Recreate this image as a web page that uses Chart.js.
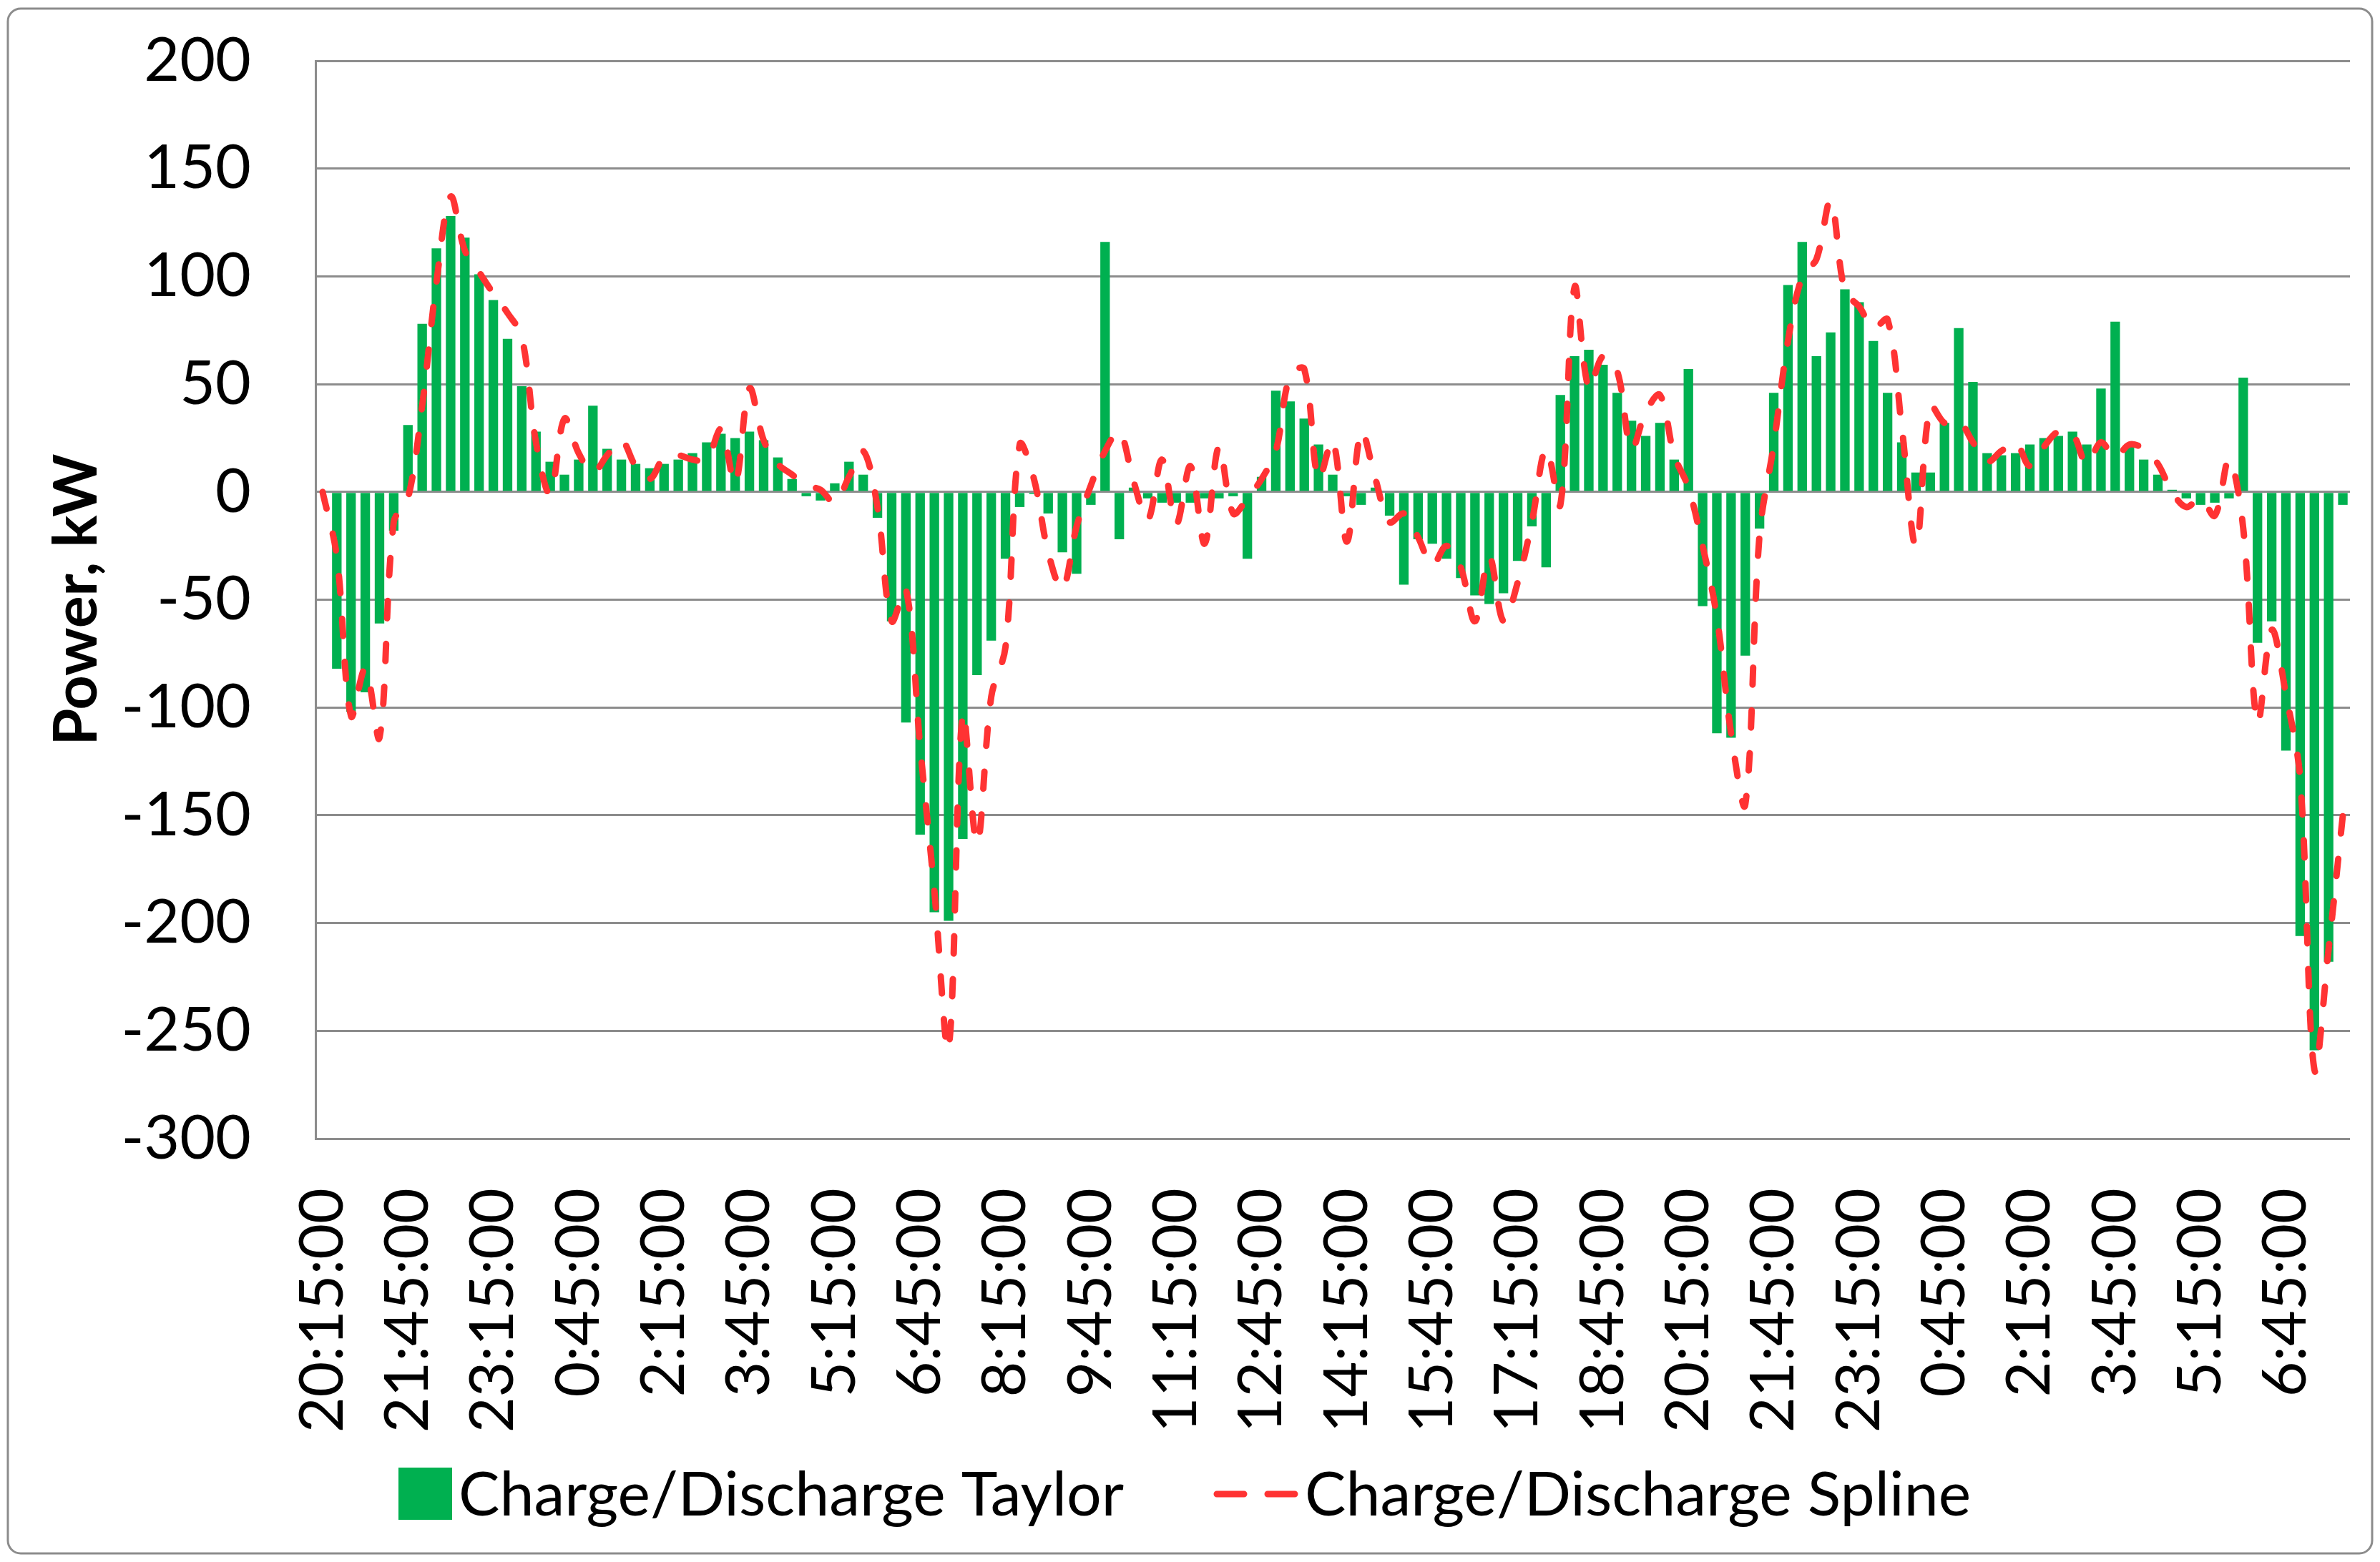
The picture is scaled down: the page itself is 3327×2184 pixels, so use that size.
<!DOCTYPE html>
<html>
<head>
<meta charset="utf-8">
<script src="https://cdn.jsdelivr.net/npm/chart.js@4.4.1/dist/chart.umd.min.js"></script>
<style>
html, body { margin: 0; padding: 0; background: #fff; }
#wrap { width: 3327px; height: 2184px; }
</style>
</head>
<body>
<div id="wrap"><canvas id="grafico" width="3327" height="2184"></canvas></div>
<script>
// time axis: 15 minute steps starting at 20:15
var startMin = 20 * 60 + 15
var stepMin = 15
var nPoints = 143
var labelEvery = 6
var times = []
for (var i = 0; i < nPoints; i++) {
    var m = (startMin + i * stepMin) % (24 * 60)
    var mm = m % 60
    times.push(Math.floor(m / 60) + ':' + (mm < 10 ? '0' + mm : mm) + ':00')
}

// Charge/Discharge Taylor (bars), kW
var taylor = [
    0, -82, -102, -93, -61, -18, 31, 78, 113, 128, 118, 101,
    89, 71, 49, 28, 14, 8, 15, 40, 20, 15, 13, 11,
    13, 15, 18, 23, 27, 25, 28, 24, 16, 6, -2, -4,
    4, 14, 8, -12, -60, -107, -159, -195, -199, -161, -85, -69,
    -31, -7, -1, -10, -28, -38, -6, 116, -22, 2, -3, -5,
    -5, -5, -3, -3, -2, -31, 7, 47, 42, 34, 22, 8,
    -2, -6, 2, -11, -43, -22, -24, -31, -40, -48, -52, -47,
    -32, -16, -35, 45, 63, 66, 59, 46, 33, 26, 32, 15,
    57, -53, -112, -114, -76, -17, 46, 96, 116, 63, 74, 94,
    88, 70, 46, 23, 9, 9, 32, 76, 51, 18, 17, 18,
    22, 25, 26, 28, 22, 48, 79, 22, 15, 8, 1, -3,
    -6, -5, -3, 53, -70, -60, -120, -206, -259, -218, -6
]

// Charge/Discharge Spline (dashed line), kW
var spline = [
    0, -30, -104, -82, -114, -14, -3, 40, 97, 137, 112, 102,
    92, 83, 72, 23, -1, 34, 18, 9, 17, 24, 12, 6,
    16, 17, 15, 15, 29, 4, 48, 24, 13, 8, 3, 1,
    -5, 7, 19, -7, -60, -45, -118, -185, -258, -103, -163, -95,
    -72, 22, 6, -28, -45, -16, 3, 19, 28, 5, -13, 15,
    -15, 12, -24, 21, -10, -3, 6, 19, 54, 57, 6, 24,
    -23, 28, 6, -14, -10, -21, -34, -25, -35, -60, -30, -60,
    -42, -14, 20, -6, 95, 48, 63, 56, 20, 37, 45, 17,
    2, -25, -58, -112, -145, -20, 22, 70, 100, 108, 135, 93,
    86, 76, 80, 30, -25, 40, 32, 33, 23, 14, 19, 23,
    12, 21, 28, 27, 13, 23, 16, 22, 20, 13, 0, -7,
    -3, -11, 15, -17, -107, -64, -94, -133, -268, -212, -150
]

var seriesNames = ['Charge/Discharge Taylor', 'Charge/Discharge Spline']

var green = '#00b050'
var red = '#ff3333'
var gray = '#8c8c8c'
var fontName = 'Lato, "Open Sans", sans-serif'
var dash = [24, 36]

// white page, rounded outer frame and the legend under the axis
var frame = {
    id: 'frame',
    beforeDraw: function (chart) {
        var ctx = chart.ctx
        ctx.save()
        ctx.fillStyle = '#fff'
        ctx.fillRect(0, 0, chart.width, chart.height)
        ctx.restore()
    },
    afterDraw: function (chart) {
        var ctx = chart.ctx
        ctx.save()
        ctx.strokeStyle = gray
        ctx.lineWidth = 3
        ctx.beginPath()
        ctx.roundRect(11, 12, 3305, 2160, 18)
        ctx.stroke()

        // legend
        var baseY = 2119
        ctx.font = '86px ' + fontName
        ctx.fillStyle = '#000'
        ctx.textBaseline = 'alphabetic'
        ctx.textAlign = 'left'
        ctx.fillStyle = green
        ctx.fillRect(557, 2052, 75, 73)
        ctx.fillStyle = '#000'
        ctx.fillText(seriesNames[0], 641, baseY)

        ctx.strokeStyle = red
        ctx.lineWidth = 9
        ctx.lineCap = 'round'
        ctx.setLineDash([38, 33])
        ctx.beginPath()
        ctx.moveTo(1701, 2089)
        ctx.lineTo(1810, 2089)
        ctx.stroke()
        ctx.setLineDash([])
        ctx.fillText(seriesNames[1], 1824, baseY)
        ctx.restore()
    }
}

var chart = new Chart(document.getElementById('grafico'), {
    type: 'bar',
    data: {
        labels: times,
        datasets: [{
            type: 'bar',
            label: seriesNames[0],
            data: taylor,
            backgroundColor: green,
            barPercentage: 0.67,
            categoryPercentage: 1,
            order: 2
        }, {
            type: 'line',
            label: seriesNames[1],
            data: spline,
            borderColor: red,
            borderWidth: 9,
            borderDash: dash,
            borderCapStyle: 'round',
            pointRadius: 0,
            tension: 0.35,
            fill: false,
            order: 1
        }]
    },
    options: {
        responsive: false,
        animation: false,
        devicePixelRatio: 1,
        layout: { padding: { left: 0, top: 85, right: 42, bottom: 177 } },
        plugins: {
            tooltip: { enabled: false },
            legend: { display: false }
        },
        scales: {
            x: {
                grid: { display: false, drawTicks: false },
                border: { display: false },
                ticks: {
                    autoSkip: false,
                    minRotation: 90,
                    maxRotation: 90,
                    padding: 69,
                    color: '#000',
                    font: { family: fontName, size: 86 },
                    callback: function (v, i) {
                        return i % labelEvery === 0 ? times[i] : null
                    }
                },
                afterFit: function (s) {
                    s.height = 415
                    s.paddingLeft = 0
                    s.paddingRight = 0
                }
            },
            y: {
                min: -300,
                max: 200,
                ticks: {
                    stepSize: 50,
                    padding: 90,
                    color: '#000',
                    font: { family: fontName, size: 86 }
                },
                grid: { color: gray, lineWidth: 3, drawTicks: false },
                border: { color: gray, width: 3 },
                title: {
                    display: true,
                    text: 'Power, kW',
                    color: '#000',
                    font: { family: fontName, size: 84, weight: 'bold' },
                    padding: { top: 58, bottom: 0 }
                },
                afterFit: function (s) {
                    s.width = 441
                    s.paddingTop = 0
                    s.paddingBottom = 0
                }
            }
        }
    },
    plugins: [frame]
})
</script>
</body>
</html>
